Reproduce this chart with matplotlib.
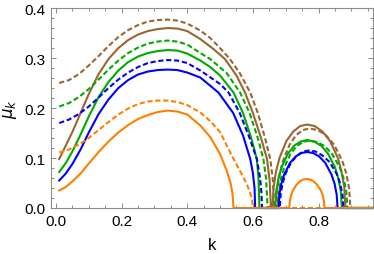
import matplotlib
matplotlib.use('Agg')
import matplotlib.pyplot as plt
from matplotlib.ticker import MultipleLocator

plt.rcParams['font.family'] = ['Liberation Sans', 'DejaVu Sans']

# colours of the four parameter sets
c_brown = '#996633'
c_green = '#00aa00'
c_blue = '#0000ff'
c_orange = '#ff8000'

# brown, solid
k_brown_solid = [0.01, 0.03, 0.05, 0.075, 0.10, 0.13, 0.16, 0.19, 0.22, 0.25, 0.28, 0.31, 0.34, 0.37, 0.40,
                 0.44, 0.48, 0.515, 0.55, 0.576, 0.60, 0.625, 0.643, 0.651, 0.655,
                 0.660, 0.663, 0.6705, 0.681, 0.702, 0.723, 0.744, 0.765, 0.788, 0.812, 0.835, 0.859,
                 0.870, 0.8785, 0.882, 0.965]
mu_brown_solid = [0.098, 0.125, 0.152, 0.19, 0.228, 0.268, 0.298, 0.32, 0.336, 0.347, 0.354, 0.358, 0.36, 0.359, 0.354,
                  0.338, 0.318, 0.298, 0.265, 0.231, 0.19, 0.14, 0.098, 0.055, 0.0,
                  0.0, 0.041, 0.073, 0.100, 0.134, 0.153, 0.164, 0.167, 0.164, 0.153, 0.134, 0.100,
                  0.073, 0.041, 0.0, 0.0]

# brown, dashed
k_brown_dash = [0.01, 0.04, 0.07, 0.10, 0.13, 0.16, 0.19, 0.22, 0.25, 0.28, 0.31, 0.34, 0.37, 0.40, 0.44,
                0.47, 0.50, 0.53, 0.56, 0.592, 0.615, 0.635, 0.653, 0.661, 0.665,
                0.672, 0.675, 0.682, 0.692, 0.712, 0.732, 0.752, 0.772, 0.797, 0.822, 0.847, 0.872,
                0.8845, 0.8933, 0.897, 0.965]
mu_brown_dash = [0.25, 0.256, 0.268, 0.285, 0.304, 0.324, 0.342, 0.356, 0.366, 0.373, 0.376, 0.377, 0.375, 0.369, 0.355,
                 0.34, 0.32, 0.298, 0.27, 0.231, 0.19, 0.145, 0.098, 0.055, 0.0,
                 0.0, 0.039, 0.069, 0.095, 0.127, 0.146, 0.156, 0.159, 0.156, 0.146, 0.127, 0.095,
                 0.069, 0.039, 0.0, 0.0]

# green, solid
k_green_solid = [0.01, 0.03, 0.05, 0.075, 0.10, 0.13, 0.16, 0.19, 0.22, 0.25, 0.28, 0.31, 0.34, 0.37, 0.40,
                 0.44, 0.47, 0.50, 0.541, 0.57, 0.595, 0.612, 0.617, 0.62,
                 0.668, 0.671, 0.6777, 0.6874, 0.7068, 0.7262, 0.7456, 0.765, 0.7862, 0.8074, 0.8286, 0.8498,
                 0.8604, 0.8678, 0.871, 0.965]
mu_green_solid = [0.072, 0.09, 0.113, 0.147, 0.183, 0.222, 0.252, 0.275, 0.292, 0.303, 0.31, 0.314, 0.316, 0.315, 0.309,
                  0.295, 0.282, 0.265, 0.231, 0.19, 0.14, 0.098, 0.06, 0.0,
                  0.0, 0.033, 0.059, 0.082, 0.109, 0.125, 0.133, 0.136, 0.133, 0.125, 0.109, 0.082,
                  0.059, 0.033, 0.0, 0.0]

# green, dashed
k_green_dash = [0.01, 0.04, 0.07, 0.10, 0.13, 0.16, 0.19, 0.22, 0.25, 0.28, 0.31, 0.34, 0.37, 0.40, 0.44,
                0.47, 0.52, 0.561, 0.59, 0.615, 0.632, 0.64, 0.645,
                0.676, 0.679, 0.6856, 0.6952, 0.7144, 0.7336, 0.7528, 0.772, 0.7952, 0.8184, 0.8416, 0.8648,
                0.8764, 0.8845, 0.888, 0.965]
mu_green_dash = [0.203, 0.21, 0.222, 0.238, 0.257, 0.277, 0.295, 0.31, 0.321, 0.329, 0.333, 0.335, 0.333, 0.327, 0.31,
                 0.298, 0.27, 0.231, 0.19, 0.14, 0.098, 0.06, 0.0,
                 0.0, 0.033, 0.059, 0.081, 0.108, 0.124, 0.132, 0.135, 0.132, 0.124, 0.108, 0.081,
                 0.059, 0.033, 0.0, 0.0]

# blue, solid
k_blue_solid = [0.01, 0.03, 0.05, 0.075, 0.10, 0.13, 0.16, 0.19, 0.22, 0.25, 0.28, 0.31, 0.34, 0.37, 0.40,
                0.44, 0.495, 0.54, 0.57, 0.592, 0.60, 0.605, 0.607,
                0.678, 0.6806, 0.6867, 0.6954, 0.7128, 0.7302, 0.7476, 0.765, 0.7836, 0.8022, 0.8208, 0.8394,
                0.8487, 0.8553, 0.858, 0.965]
mu_blue_solid = [0.055, 0.069, 0.088, 0.117, 0.151, 0.188, 0.217, 0.24, 0.256, 0.267, 0.273, 0.276, 0.277, 0.276, 0.271,
                 0.261, 0.231, 0.19, 0.145, 0.098, 0.07, 0.04, 0.0,
                 0.0, 0.027, 0.049, 0.067, 0.090, 0.103, 0.110, 0.112, 0.110, 0.103, 0.090, 0.067,
                 0.049, 0.027, 0.0, 0.0]

# blue, dashed
k_blue_dash = [0.01, 0.04, 0.07, 0.10, 0.13, 0.16, 0.19, 0.22, 0.25, 0.28, 0.31, 0.34, 0.37, 0.40, 0.44,
               0.50, 0.526, 0.56, 0.59, 0.612, 0.622, 0.626, 0.628,
               0.682, 0.6846, 0.6908, 0.6996, 0.7172, 0.7348, 0.7524, 0.77, 0.7912, 0.8124, 0.8336, 0.8548,
               0.8654, 0.8728, 0.876, 0.965]
mu_blue_dash = [0.17, 0.177, 0.188, 0.203, 0.221, 0.24, 0.257, 0.271, 0.282, 0.29, 0.294, 0.296, 0.295, 0.29, 0.275,
                0.248, 0.231, 0.19, 0.14, 0.098, 0.06, 0.03, 0.0,
                0.0, 0.028, 0.050, 0.069, 0.092, 0.105, 0.113, 0.115, 0.113, 0.105, 0.092, 0.069,
                0.050, 0.028, 0.0, 0.0]

# orange, solid
k_orange_solid = [0.01, 0.03, 0.05, 0.075, 0.10, 0.13, 0.16, 0.19, 0.22, 0.25, 0.28, 0.31, 0.34, 0.37, 0.40,
                  0.44, 0.47, 0.50, 0.52, 0.532, 0.538, 0.541,
                  0.711, 0.7126, 0.7163, 0.7216, 0.7322, 0.7428, 0.7534, 0.764, 0.7748, 0.7856, 0.7964, 0.8072,
                  0.8126, 0.8164, 0.818, 0.965]
mu_orange_solid = [0.035, 0.042, 0.053, 0.069, 0.089, 0.112, 0.133, 0.151, 0.166, 0.178, 0.186, 0.192, 0.195, 0.193, 0.187,
                   0.165, 0.142, 0.108, 0.075, 0.05, 0.028, 0.0,
                   0.0, 0.014, 0.025, 0.035, 0.046, 0.053, 0.057, 0.058, 0.057, 0.053, 0.046, 0.035,
                   0.025, 0.014, 0.0, 0.0]

# orange, dashed
k_orange_dash = [0.01, 0.04, 0.07, 0.10, 0.13, 0.16, 0.19, 0.22, 0.25, 0.28, 0.31, 0.34, 0.37, 0.40, 0.44,
                 0.47, 0.50, 0.541, 0.56, 0.58, 0.592, 0.598, 0.60, 0.965]
mu_orange_dash = [0.111, 0.117, 0.127, 0.14, 0.156, 0.172, 0.187, 0.199, 0.208, 0.213, 0.215, 0.215, 0.212, 0.206, 0.191,
                  0.174, 0.152, 0.098, 0.075, 0.05, 0.03, 0.015, 0.0, 0.0]

fig = plt.figure(figsize=(3.74, 2.55), dpi=100)
ax = fig.add_axes([0.1364, 0.1804, 0.861, 0.784])

lw = 1.5
dash = (2.5, 1.3)

curves = [
    (k_brown_solid, mu_brown_solid, c_brown, False),
    (k_brown_dash, mu_brown_dash, c_brown, True),
    (k_green_solid, mu_green_solid, c_green, False),
    (k_green_dash, mu_green_dash, c_green, True),
    (k_blue_solid, mu_blue_solid, c_blue, False),
    (k_blue_dash, mu_blue_dash, c_blue, True),
    (k_orange_solid, mu_orange_solid, c_orange, False),
    (k_orange_dash, mu_orange_dash, c_orange, True),
]
for k, mu, col, dashed in curves:
    line, = ax.plot(k, mu, color=col, lw=lw, clip_on=False, solid_joinstyle='round')
    if dashed:
        line.set_dashes(dash)

ax.set_xlim(-0.015, 0.966)
ax.set_ylim(0, 0.4)

ax.xaxis.set_major_locator(MultipleLocator(0.2))
ax.xaxis.set_minor_locator(MultipleLocator(0.05))
ax.yaxis.set_major_locator(MultipleLocator(0.1))
ax.yaxis.set_minor_locator(MultipleLocator(0.02))

frame_col = '#8c8c8c'
for s in ax.spines.values():
    s.set_color(frame_col)
    s.set_linewidth(0.8)
ax.tick_params(which='both', direction='in', top=True, right=True, color=frame_col, width=0.7,
               labelsize=11, labelcolor='black', pad=4)
ax.tick_params(which='major', length=3.5)
ax.tick_params(which='minor', length=2)

ax.set_xlabel('k', fontsize=12, labelpad=7)
ax.set_ylabel(r'$\mu_k$', fontsize=12, labelpad=4)

fig.savefig('out.png', dpi=100)
